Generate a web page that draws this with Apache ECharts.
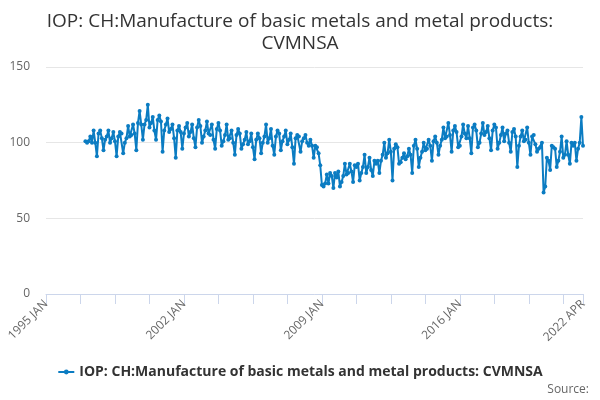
<!DOCTYPE html>
<html>
<head>
    <meta charset="utf-8">
    <title>IOP: CH:Manufacture of basic metals and metal products: CVMNSA</title>
    <script src="https://cdn.jsdelivr.net/npm/echarts@6/dist/echarts.min.js"></script>
    <style>
        body { margin: 0; background: #fff; }
    </style>
</head>
<body>
    <div id="main" style="width: 600px;height:400px;"></div>
    <script type="text/javascript">
        // monthly values, 1997 JAN .. 2022 APR (1995-1996 have no data)
        const values1997to2022 = [
            101, 100, 101, 104, 100, 108, 100, 91, 106, 108, 103, 95,
            102, 104, 108, 100, 103, 107, 101, 91, 104, 107, 106, 93,
            100, 103, 111, 104, 105, 112, 106, 95, 113, 121, 112, 102,
            112, 115, 125, 110, 113, 117, 108, 102, 115, 118, 114, 94,
            108, 112, 116, 107, 109, 112, 103, 90, 108, 111, 107, 96,
            106, 110, 113, 104, 107, 112, 103, 97, 110, 115, 111, 100,
            104, 108, 114, 106, 105, 112, 102, 96, 109, 113, 108, 98,
            101, 105, 112, 102, 103, 108, 100, 92, 105, 109, 106, 96,
            99, 102, 107, 99, 101, 106, 97, 89, 102, 106, 103, 93,
            100, 104, 112, 100, 103, 109, 98, 92, 104, 108, 106, 95,
            101, 104, 108, 99, 102, 106, 97, 86, 103, 105, 104, 94,
            101, 103, 105, 100, 98, 102, 98, 90, 98, 97, 93, 85,
            72, 71, 73, 79, 73, 80, 78, 70, 80, 77, 81, 71,
            74, 78, 86, 79, 80, 86, 81, 74, 85, 84, 86, 75,
            80, 84, 92, 80, 84, 90, 82, 78, 88, 86, 88, 80,
            88, 92, 100, 90, 93, 102, 94, 75, 96, 99, 97, 86,
            87, 90, 93, 89, 91, 96, 92, 80, 98, 102, 96, 84,
            90, 94, 100, 95, 96, 102, 98, 88, 101, 104, 100, 92,
            98, 102, 110, 103, 104, 113, 105, 94, 108, 111, 107, 97,
            98, 104, 112, 106, 103, 111, 103, 93, 110, 112, 108, 97,
            100, 106, 113, 105, 107, 111, 103, 95, 108, 112, 110, 96,
            100, 105, 110, 101, 106, 108, 100, 94, 107, 109, 104, 84,
            98, 104, 108, 101, 102, 110, 100, 92, 104, 105, 99, 94,
            96, 97, 100, 67, 71, 90, 88, 82, 98, 97, 96, 84,
            88, 94, 104, 90, 92, 101, 92, 86, 100, 98, 100, 88,
            96, 100, 117, 98
        ];
        const monthNames = ['JAN', 'FEB', 'MAR', 'APR', 'MAY', 'JUN', 'JUL', 'AUG', 'SEP', 'OCT', 'NOV', 'DEC'];
        const firstYear = 1995;
        const lastYear = 2022;
        const lastMonthIndex = 3; // APR
        const seriesName = 'IOP: CH:Manufacture of basic metals and metal products: CVMNSA';

        // category labels 1995 JAN .. 2022 APR
        const categories = [];
        for (let y = firstYear; y <= lastYear; y++) {
            for (let m = 0; m < 12; m++) {
                if (y === lastYear && m > lastMonthIndex) break;
                categories.push(y + ' ' + monthNames[m]);
            }
        }
        const leadingEmpty = categories.length - values1997to2022.length;
        const seriesData = new Array(leadingEmpty).fill(null).concat(values1997to2022);
        const lastIndex = categories.length - 1;

        var myChart = echarts.init(document.getElementById('main'));
        var option = {
            animation: false,
            title: {
                text: 'IOP: CH:Manufacture of basic metals and metal products:\nCVMNSA',
                left: 'center',
                top: 6,
                textStyle: { color: '#333', fontSize: 19, fontWeight: 'normal', lineHeight: 22, fontFamily: 'Open Sans' }
            },
            graphic: {
                elements: [{
                    type: 'text',
                    right: 11,
                    top: 384,
                    style: { text: 'Source:', fill: '#666', fontSize: 12, fontFamily: 'Open Sans' }
                }]
            },
            legend: {
                bottom: 16,
                left: 'center',
                itemWidth: 16,
                itemHeight: 6,
                textStyle: { color: '#333', fontWeight: 'bold', fontSize: 14, fontFamily: 'Open Sans' },
                data: [seriesName]
            },
            grid: {
                left: 46,
                right: 17,
                top: 67,
                bottom: 106,
                containLabel: false
            },
            xAxis: {
                type: 'category',
                data: categories,
                boundaryGap: false,
                axisLine: { lineStyle: { color: '#ccd6eb' } },
                axisTick: {
                    show: true,
                    length: 10,
                    lineStyle: { color: '#ccd6eb' },
                    interval: (i) => i % 21 === 0 || i === lastIndex
                },
                axisLabel: {
                    color: '#666',
                    fontSize: 12,
                    rotate: 45,
                    fontFamily: 'Open Sans',
                    interval: (i) => i % 84 === 0 || i === lastIndex
                },
                splitLine: { show: false }
            },
            yAxis: {
                type: 'value',
                min: 0,
                max: 150,
                interval: 50,
                axisLine: { show: false },
                axisTick: { show: false },
                axisLabel: { color: '#666', fontSize: 12, margin: 16, fontFamily: 'Open Sans' },
                splitLine: { lineStyle: { color: '#e6e6e6' } }
            },
            series: [{
                name: seriesName,
                type: 'line',
                data: seriesData,
                symbol: 'circle',
                symbolSize: 4,
                showAllSymbol: true,
                itemStyle: { color: '#0b7cc2' },
                lineStyle: { width: 2, color: '#0b7cc2' }
            }]
        };
        myChart.setOption(option);
    </script>
</body>
</html>
